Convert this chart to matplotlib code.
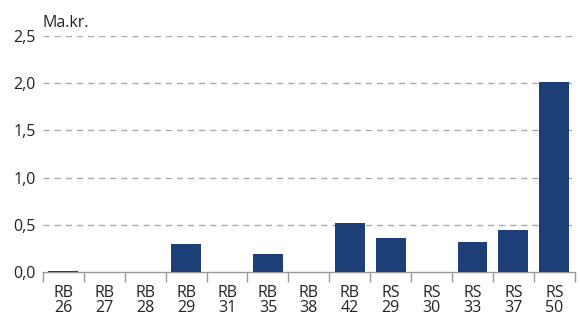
import matplotlib
matplotlib.use("Agg")
import matplotlib.pyplot as plt
import numpy as np

categories = ["RB\n26", "RB\n27", "RB\n28", "RB\n29", "RB\n31", "RB\n35", "RB\n38",
              "RB\n42", "RS\n29", "RS\n30", "RS\n33", "RS\n37", "RS\n50"]
values = [0.012, 0.0, 0.0, 0.30, 0.0, 0.19, 0.0, 0.52, 0.36, 0.0, 0.32, 0.445, 2.01]
yticks = [0.0, 0.5, 1.0, 1.5, 2.0, 2.5]
ytick_labels = ["0,0", "0,5", "1,0", "1,5", "2,0", "2,5"]

plt.rcParams['font.family'] = ['Open Sans', 'DejaVu Sans']

fig = plt.figure(figsize=(5.8, 3.16), dpi=100)
ax = fig.add_axes([0.074, 0.139, 0.917, 0.747])

x = np.arange(len(categories))
ax.bar(x, values, width=0.73, color="#1d3f77", zorder=3)

ax.set_xlim(-0.5, len(categories) - 0.5)
ax.set_ylim(0, 2.5)
ax.set_yticks(yticks)
ax.set_yticklabels(ytick_labels, fontsize=11.5, color="#222222")
ax.tick_params(axis='y', length=0, pad=5)

ax.set_xticks(x)
ax.set_xticklabels(categories, fontsize=11.5, color="#222222", linespacing=0.95)
ax.tick_params(axis='x', which='major', length=0, pad=9)
ax.set_xticks(np.arange(-0.5, len(categories)), minor=True)
ax.tick_params(axis='x', which='minor', length=7, width=1, color="#999999", direction='out')

for y in yticks[1:]:
    ax.axhline(y, color="#aaaaaa", lw=1, ls=(0, (4.5, 3.5)), zorder=1)

for s in ["top", "right", "left"]:
    ax.spines[s].set_visible(False)
ax.spines["bottom"].set_color("#999999")
ax.spines["bottom"].set_linewidth(1)
ax.spines["bottom"].set_zorder(2)

fig.text(0.074, 0.914, "Ma.kr.", fontsize=11.5, color="#222222", ha="left", va="baseline")

fig.savefig("out.png", dpi=100)
